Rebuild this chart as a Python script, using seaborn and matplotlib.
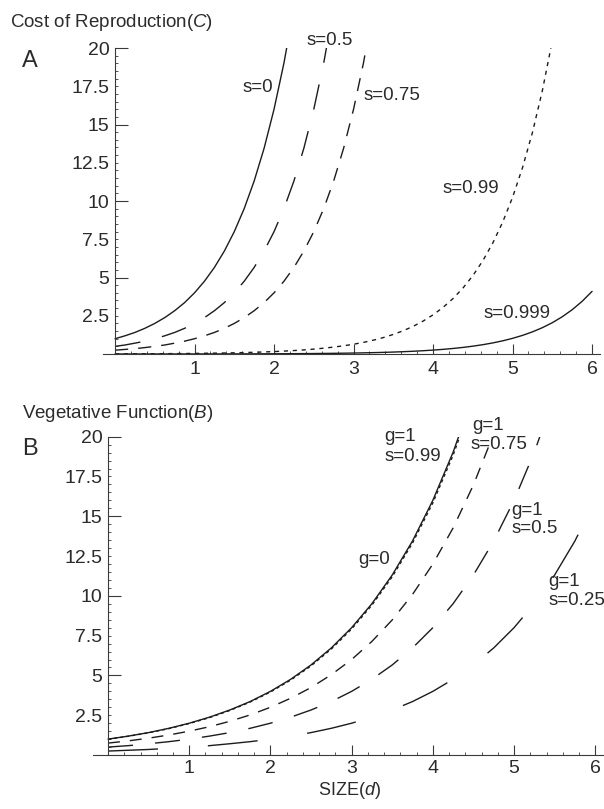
import numpy as np
import pandas as pd
import matplotlib
matplotlib.use("Agg")
import matplotlib.pyplot as plt
from matplotlib.ticker import FixedLocator, MultipleLocator, FuncFormatter, NullFormatter
import seaborn as sns

# ---------------- data ----------------
# Panel A: cost of reproduction C against size d, sampled every 0.125 in d
size_a = np.arange(49) * 0.125
cost_s0 = [1.0, 1.19, 1.41, 1.68, 2.0, 2.38, 2.83, 3.36, 4.0, 4.76, 5.66, 6.73, 8.0,
           9.51, 11.31, 13.45, 16.0, 19.03, 22.63]
cost_s050 = [0.5, 0.59, 0.71, 0.84, 1.0, 1.19, 1.41, 1.68, 2.0, 2.38, 2.83, 3.36, 4.0,
             4.76, 5.66, 6.73, 8.0, 9.51, 11.31, 13.45, 16.0, 19.03, 22.63]
cost_s075 = [0.25, 0.3, 0.35, 0.42, 0.5, 0.59, 0.71, 0.84, 1.0, 1.19, 1.41, 1.68, 2.0,
             2.38, 2.83, 3.36, 4.0, 4.76, 5.66, 6.73, 8.0, 9.51, 11.31, 13.45, 16.0,
             19.03, 22.63]
cost_s099 = [0.01, 0.012, 0.014, 0.017, 0.02, 0.024, 0.028, 0.034, 0.04, 0.048, 0.057,
             0.067, 0.08, 0.095, 0.113, 0.135, 0.16, 0.19, 0.226, 0.269, 0.32, 0.381,
             0.453, 0.538, 0.64, 0.761, 0.905, 1.076, 1.28, 1.522, 1.81, 2.153, 2.56,
             3.044, 3.62, 4.305, 5.12, 6.089, 7.241, 8.611, 10.24, 12.18, 14.48, 17.22,
             20.48]
cost_s0999 = [0.001, 0.0012, 0.0014, 0.0017, 0.002, 0.0024, 0.0028, 0.0034, 0.004,
              0.0048, 0.0057, 0.0067, 0.008, 0.0095, 0.0113, 0.0135, 0.016, 0.019,
              0.0226, 0.0269, 0.032, 0.0381, 0.0453, 0.0538, 0.064, 0.0761, 0.0905,
              0.1076, 0.128, 0.1522, 0.181, 0.2153, 0.256, 0.3044, 0.362, 0.4305, 0.512,
              0.6089, 0.7241, 0.8611, 1.024, 1.218, 1.448, 1.722, 2.048, 2.436, 2.896,
              3.444, 4.096]

# Panel B: vegetative function B against size d, sampled every 0.25 in d
size_b = np.arange(25) * 0.25
veg_g0 = [1.0, 1.19, 1.41, 1.68, 2.0, 2.38, 2.83, 3.36, 4.0, 4.76, 5.66, 6.73, 8.0,
          9.51, 11.31, 13.45, 16.0, 19.03, 22.63]
veg_s099 = [0.99, 1.18, 1.4, 1.66, 1.98, 2.35, 2.8, 3.33, 3.96, 4.71, 5.6, 6.66, 7.92,
            9.42, 11.2, 13.32, 15.84, 18.84, 22.4]
veg_s075 = [0.75, 0.89, 1.06, 1.26, 1.5, 1.78, 2.12, 2.52, 3.0, 3.57, 4.24, 5.05, 6.0,
            7.14, 8.49, 10.09, 12.0, 14.27, 16.97, 20.18]
veg_s050 = [0.5, 0.59, 0.71, 0.84, 1.0, 1.19, 1.41, 1.68, 2.0, 2.38, 2.83, 3.36, 4.0,
            4.76, 5.66, 6.73, 8.0, 9.51, 11.31, 13.45, 16.0, 19.03, 22.63]
veg_s025 = [0.25, 0.3, 0.35, 0.42, 0.5, 0.59, 0.71, 0.84, 1.0, 1.19, 1.41, 1.68, 2.0,
            2.38, 2.83, 3.36, 4.0, 4.76, 5.66, 6.73, 8.0, 9.51, 11.31, 13.45, 16.0]

y_major = [5, 10, 15, 20]
x_major = [1, 2, 3, 4, 5, 6]

# ---------------- style ----------------
sns.set_style("ticks")
plt.rcParams["font.family"] = ["Liberation Sans", "DejaVu Sans"]
plt.rcParams["mathtext.fontset"] = "custom"
plt.rcParams["mathtext.rm"] = "Liberation Sans"
plt.rcParams["mathtext.it"] = "Liberation Sans:italic"

INK = "#1c1c1c"
AXC = "#3a3a3a"
TXT = "#2b2b2b"
FS = 13.5
TICK_FS = 14


def long_frame(size, series):
    rows = []
    for name, vals in series.items():
        for d, v in zip(size[:len(vals)], vals):
            rows.append((name, d, v))
    return pd.DataFrame(rows, columns=["curve", "size", "value"])


def style_axes(ax, xlim, xpad):
    ax.set_xlim(*xlim)
    ax.set_ylim(0, 20)
    for side in ("top", "right"):
        ax.spines[side].set_visible(False)
    ax.spines["left"].set_position(("data", 0))
    ax.spines["left"].set_bounds(0, 20)
    for side in ("left", "bottom"):
        ax.spines[side].set_color(AXC)
        ax.spines[side].set_linewidth(0.8)
    ax.yaxis.set_major_locator(FixedLocator(y_major))
    ax.yaxis.set_minor_locator(MultipleLocator(0.5))
    ax.yaxis.set_major_formatter(FuncFormatter(lambda v, p: f"{v:g}"))
    ax.yaxis.set_minor_formatter(
        FuncFormatter(lambda v, p: f"{v:g}" if abs((v % 5) - 2.5) < 1e-6 else ""))
    ax.xaxis.set_major_locator(FixedLocator(x_major))
    ax.xaxis.set_minor_locator(MultipleLocator(0.2))
    ax.xaxis.set_minor_formatter(NullFormatter())
    ax.tick_params(axis="y", which="major", direction="in", length=9, width=0.8,
                   color=AXC, labelsize=TICK_FS, labelcolor=TXT, pad=4)
    ax.tick_params(axis="y", which="minor", direction="in", length=2, width=0.6,
                   color=AXC, labelsize=TICK_FS, labelcolor=TXT, pad=4)
    ax.tick_params(axis="x", which="major", direction="in", length=7, width=0.8,
                   color=AXC, labelsize=TICK_FS, labelcolor=TXT, pad=xpad)
    ax.tick_params(axis="x", which="minor", direction="in", length=2.5, width=0.6,
                   color=AXC)
    ax.set_xlabel("")
    ax.set_ylabel("")


fig = plt.figure(figsize=(6.04, 8.09), dpi=100)
ax_a = fig.add_axes([0.1707, 0.5624, 0.8227, 0.3782])
ax_b = fig.add_axes([0.1533, 0.0667, 0.8467, 0.3935])

# ---------------- panel A ----------------
curves_a = {"s=0": cost_s0, "s=0.5": cost_s050, "s=0.75": cost_s075,
            "s=0.99": cost_s099, "s=0.999": cost_s0999}
dash_a = {"s=0": "", "s=0.5": (18.5, 16), "s=0.75": (9.5, 7.2),
          "s=0.99": (3.0, 3.4), "s=0.999": ""}
sns.lineplot(data=long_frame(size_a, curves_a), x="size", y="value", style="curve",
             dashes=dash_a, color=INK, linewidth=1.0, estimator=None,
             legend=False, ax=ax_a)
style_axes(ax_a, (-0.15, 6.1), 5)

labels_a = [("s=0", 1.60, 17.1), ("s=0.5", 2.41, 20.2), ("s=0.75", 3.12, 16.6),
            ("s=0.99", 4.12, 10.5), ("s=0.999", 4.64, 2.35)]
for txt, x, y in labels_a:
    ax_a.text(x, y, txt, fontsize=FS, color=TXT, ha="left", va="baseline")

# ---------------- panel B ----------------
curves_b = {"g=0": veg_g0, "s=0.99": veg_s099, "s=0.75": veg_s075,
            "s=0.5": veg_s050, "s=0.25": veg_s025}
dash_b = {"g=0": "", "s=0.99": (2.2, 2.2), "s=0.75": (8.6, 7.2),
          "s=0.5": (18, 16), "s=0.25": (36, 36)}
sns.lineplot(data=long_frame(size_b, curves_b), x="size", y="value", style="curve",
             dashes=dash_b, color=INK, linewidth=1.0, estimator=None,
             legend=False, ax=ax_b)
style_axes(ax_b, (-0.19, 6.108), 3.5)

labels_b = [("g=1", 3.40, 19.7), ("s=0.99", 3.40, 18.5),
            ("g=1", 4.49, 20.4), ("s=0.75", 4.46, 19.2),
            ("g=1", 4.97, 15.1), ("s=0.5", 4.97, 13.95),
            ("g=1", 5.42, 10.6), ("s=0.25", 5.42, 9.4),
            ("g=0", 3.08, 12.0)]
for txt, x, y in labels_b:
    ax_b.text(x, y, txt, fontsize=FS, color=TXT, ha="left", va="baseline")

# ---------------- titles ----------------
W, H = 604, 809
fig.text(10 / W, 1 - 27 / H, r"Cost of Reproduction($\mathit{C}$)", fontsize=FS,
         color=TXT, ha="left", va="baseline")
fig.text(22 / W, 1 - 418 / H, r"Vegetative Function($\mathit{B}$)", fontsize=FS,
         color=TXT, ha="left", va="baseline")
fig.text(22 / W, 1 - 67 / H, "A", fontsize=17, color=TXT, ha="left", va="baseline")
fig.text(22 / W, 1 - 455 / H, "B", fontsize=17, color=TXT, ha="left", va="baseline")
fig.text(349 / W, 1 - 795 / H, r"SIZE($\mathit{d}$)", fontsize=13, color=TXT,
         ha="center", va="baseline")

fig.savefig("out.png", dpi=100)
